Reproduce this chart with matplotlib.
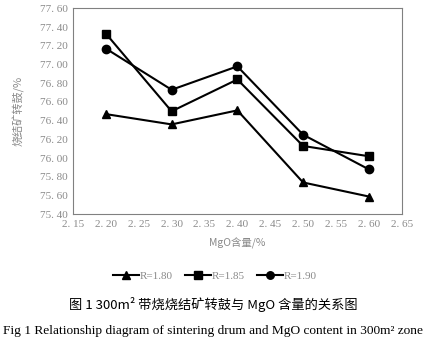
import numpy as np
import matplotlib
matplotlib.use("Agg")
import matplotlib.pyplot as plt
from matplotlib.ticker import FuncFormatter

# data
mgo = [2.20, 2.30, 2.40, 2.50, 2.60]
r180 = [76.47, 76.36, 76.51, 75.74, 75.59]
r185 = [77.33, 76.50, 76.84, 76.13, 76.02]
r190 = [77.17, 76.73, 76.98, 76.25, 75.88]
labels = ["R=1.80", "R=1.85", "R=1.90"]

plt.rcParams['font.family'] = ['Noto Sans CJK SC', 'DejaVu Sans']
grey = '#8a8a8a'

fig = plt.figure(figsize=(4.36, 3.42), dpi=100)
ax = fig.add_axes([73/436, 1-214.3/342, (401.7-73)/436, (214.3-8.3)/342])

ax.plot(mgo, r180, color='black', lw=1.5, marker='^', ms=6, label=labels[0])
ax.plot(mgo, r185, color='black', lw=1.5, marker='s', ms=6, label=labels[1])
ax.plot(mgo, r190, color='black', lw=1.5, marker='o', ms=6, label=labels[2])

ax.set_xlim(2.15, 2.65)
ax.set_ylim(75.40, 77.60)
ax.set_xticks(np.arange(2.15, 2.651, 0.05))
ax.set_yticks(np.arange(75.40, 77.601, 0.20))
# SimSun-like spacing after the decimal point
fmt = FuncFormatter(lambda v, p: ('%.2f' % v).replace('.', '. '))
ax.xaxis.set_major_formatter(fmt)
ax.yaxis.set_major_formatter(fmt)
ax.tick_params(length=0, labelsize=8, colors=grey, pad=4)
for lab in ax.get_xticklabels() + ax.get_yticklabels():
    lab.set_family('Liberation Serif')
for s in ax.spines.values():
    s.set_color('#808080')
    s.set_linewidth(0.8)

ax.set_ylabel('烧结矿转鼓/%', fontsize=8, color=grey, labelpad=11)
ax.set_xlabel('MgO含量/%', fontsize=7.5, color=grey, labelpad=6)

leg = fig.legend(loc='center', bbox_to_anchor=(215/436, 1-276/342), ncol=3, frameon=False,
                 fontsize=8, handlelength=2.3, columnspacing=1.1, handletextpad=0.1,
                 markerscale=0.9)
for t in leg.get_texts():
    t.set_color(grey)
    t.set_family('Liberation Serif')

fig.text(213/436, 1-305/342, '图 1 300m² 带烧烧结矿转鼓与 MgO 含量的关系图',
         ha='center', va='center', fontsize=9.5, color='black',
         family=['Noto Sans CJK SC', 'DejaVu Sans'])
fig.text(213/436, 1-331/342, 'Fig 1 Relationship diagram of sintering drum and MgO content in 300m² zone',
         ha='center', va='center', fontsize=9.6, color='black', family='Liberation Serif')

fig.savefig('out.png', dpi=100)
